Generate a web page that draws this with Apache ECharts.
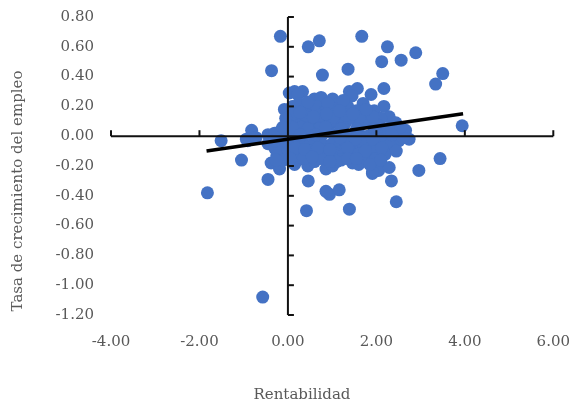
<!DOCTYPE html>
<html>
<head>
<meta charset="utf-8">
<script src="https://cdn.jsdelivr.net/npm/echarts@6/dist/echarts.min.js"></script>
<style>html,body{margin:0;padding:0;background:#fff}#c{width:573px;height:402px}</style>
</head>
<body>
<div id="c"></div>
<script>
// Rentabilidad (x) values
const rentabilidad = [
 -0.17,0.46,0.71,1.67,2.25,2.89,2.12,2.56,0.78,1.36,3.50,3.34,2.17,3.94,3.44,2.96,2.45,0.42,1.39,0.94,0.86,1.16,0.46,2.34,1.91,2.05,
 -0.37,-0.08,-1.51,-0.82,-1.05,-0.45,-1.82,-0.57,-0.38,-0.19,-0.94,-0.75,-0.45,-0.45,-0.19,-0.91,-0.72,
 -0.30,-0.15,-0.25,-0.10,-0.30,-0.27,0.03,0.03,
 0.15,0.33,0.22,0.60,0.75,1.01,1.12,1.39,1.57,1.45,1.88,1.70,2.17,2.29,2.44,2.66,2.51,2.33,2.74,
 0.10,0.35,0.50,0.65,0.85,1.00,1.20,1.35,1.55,1.75,1.95,2.10,0.25,0.45,0.90,1.25,
 0.05,0.20,0.40,0.60,0.80,0.95,1.10,1.30,1.45,1.65,1.85,2.05,2.25,0.30,0.70,
 0.00,0.15,0.35,0.50,0.75,0.90,1.05,1.25,1.40,1.60,1.80,2.00,2.20,2.45,
 0.05,0.25,0.45,0.60,0.80,1.00,1.15,1.30,1.50,1.70,1.90,2.10,2.30,2.60,
 0.10,0.30,0.50,0.70,0.90,1.05,1.25,1.40,1.60,1.80,2.00,2.20,0.00,
 0.15,0.22,0.45,0.60,0.86,1.01,1.20,1.46,1.76,1.99,0.35,0.75,1.10,1.60,
 1.91,2.29,
 0.12,0.42,0.72,1.02,1.32,1.62,1.92,0.27,0.57,0.87,1.17,1.47,1.77,
 0.10,0.45,0.85,1.20,1.55,1.95,2.35,2.55,
 0.08,0.28,0.62,1.18,1.52,1.92,2.35,
 0.18,0.38,0.68,0.95,1.35,1.75,2.12,2.45,
 0.05,0.55,0.95,1.35,1.55,1.85,2.10,
 -0.10,-0.05,-0.30,-0.12
];
// Tasa de crecimiento del empleo (y) values
const empleo = [
 0.67,0.60,0.64,0.67,0.60,0.56,0.50,0.51,0.41,0.45,0.42,0.35,0.32,0.07,-0.15,-0.23,-0.44,-0.50,-0.49,-0.39,-0.37,-0.36,-0.30,-0.30,-0.25,-0.23,
 0.44,0.18,-0.03,0.04,-0.16,-0.29,-0.38,-1.08,-0.18,-0.22,-0.02,-0.01,0.01,-0.05,0.03,-0.03,-0.01,
 -0.08,-0.10,-0.13,-0.16,0.02,-0.16,0.08,0.29,
 0.30,0.30,0.28,0.25,0.26,0.25,0.22,0.30,0.32,0.27,0.28,0.22,0.20,0.13,0.09,0.04,-0.03,-0.07,-0.02,
 0.20,0.18,0.16,0.20,0.17,0.19,0.15,0.20,0.17,0.15,0.17,0.12,0.22,0.23,0.22,0.24,
 0.12,0.12,0.09,0.10,0.12,0.08,0.10,0.09,0.12,0.08,0.10,0.07,0.05,0.06,0.05,
 0.02,0.03,0.00,0.03,0.00,0.03,0.01,0.03,0.00,0.02,0.00,0.02,-0.01,0.02,
 -0.06,-0.04,-0.07,-0.03,-0.06,-0.05,-0.08,-0.04,-0.07,-0.05,-0.07,-0.03,-0.06,-0.01,
 -0.11,-0.13,-0.10,-0.12,-0.14,-0.11,-0.13,-0.10,-0.12,-0.15,-0.10,-0.12,-0.09,
 -0.19,-0.16,-0.20,-0.17,-0.22,-0.20,-0.16,-0.18,-0.16,-0.15,-0.15,-0.15,-0.17,-0.19,
 -0.24,-0.21,
 0.15,0.14,0.14,0.13,0.14,0.13,0.13,0.16,0.13,0.15,0.17,0.15,0.18,
 0.06,0.05,0.06,0.05,0.05,0.05,0.06,0.06,
 -0.02,0.01,0.01,-0.01,-0.02,-0.02,0.01,
 -0.08,-0.09,-0.08,-0.09,-0.08,-0.10,-0.08,-0.10,
 -0.15,-0.14,-0.17,-0.15,-0.15,-0.19,-0.16,
 -0.03,0.12,-0.03,0.06
];
// Trend line endpoints
const tendenciaX = [-1.84, 3.96];
const tendenciaY = [-0.10, 0.15];
// Axis ranges / tick values
const xMin = -4, xMax = 6, xStep = 2;
const yMin = -1.2, yMax = 0.8, yStep = 0.2;
const xTickValues = [-4, -2, 2, 4, 6];
const yTickValues = [-1.2, -1.0, -0.8, -0.6, -0.4, -0.2, 0.2, 0.4, 0.6, 0.8];
const xTitle = 'Rentabilidad';
const yTitle = 'Tasa de crecimiento del empleo';

const puntos = rentabilidad.map((v, i) => [v, empleo[i]]);
const tendencia = tendenciaX.map((v, i) => [v, tendenciaY[i]]);

const FONT = 'DejaVu Serif';
const GRAY = '#595959';
const chart = echarts.init(document.getElementById('c'));
chart.setOption({
  animation: false,
  grid: {left: 111, right: 18, top: 17, bottom: 87},
  xAxis: {type: 'value', min: xMin, max: xMax, interval: xStep,
     axisLine: {show: false, onZero: false}, axisTick: {show: false},
     axisLabel: {margin: 20, color: GRAY, fontFamily: FONT, fontSize: 15,
       formatter: v => v.toFixed(2)},
     splitLine: {show: false}},
  yAxis: {type: 'value', min: yMin, max: yMax, interval: yStep,
     name: yTitle, nameLocation: 'middle', nameGap: 85,
     nameTextStyle: {color: GRAY, fontFamily: FONT, fontSize: 15, padding: [0, 50, 0, 0]},
     axisLine: {show: false, onZero: false}, axisTick: {show: false},
     axisLabel: {margin: 17, color: GRAY, fontFamily: FONT, fontSize: 15,
       formatter: v => v.toFixed(2)},
     splitLine: {show: false}},
  graphic: [
    {type: 'text', x: 302, y: 395, style: {text: xTitle, fill: GRAY, font: '15px "DejaVu Serif"', align: 'center', verticalAlign: 'middle'}}
  ],
  series: [
    {type: 'scatter', data: puntos, symbolSize: 13, itemStyle: {color: '#4472C4', opacity: 1}, z: 2},
    {type: 'line', data: [[xMin, 0], [xMax, 0]], symbol: 'none', lineStyle: {color: '#111111', width: 2}, z: 5},
    {type: 'line', data: [[0, yMin], [0, yMax]], symbol: 'none', lineStyle: {color: '#111111', width: 2}, z: 5},
    {type: 'scatter', data: xTickValues.map(v => [v, 0]), symbol: 'rect', symbolSize: [2, 6],
     symbolOffset: [0, -3], itemStyle: {color: '#111111', opacity: 1}, z: 5},
    {type: 'scatter', data: yTickValues.map(v => [0, v]), symbol: 'rect', symbolSize: [6, 2],
     symbolOffset: [3, 0], itemStyle: {color: '#111111', opacity: 1}, z: 5},
    {type: 'line', data: tendencia, symbol: 'none', lineStyle: {color: '#000000', width: 3.5}, z: 6}
  ]
});
</script>
</body>
</html>
